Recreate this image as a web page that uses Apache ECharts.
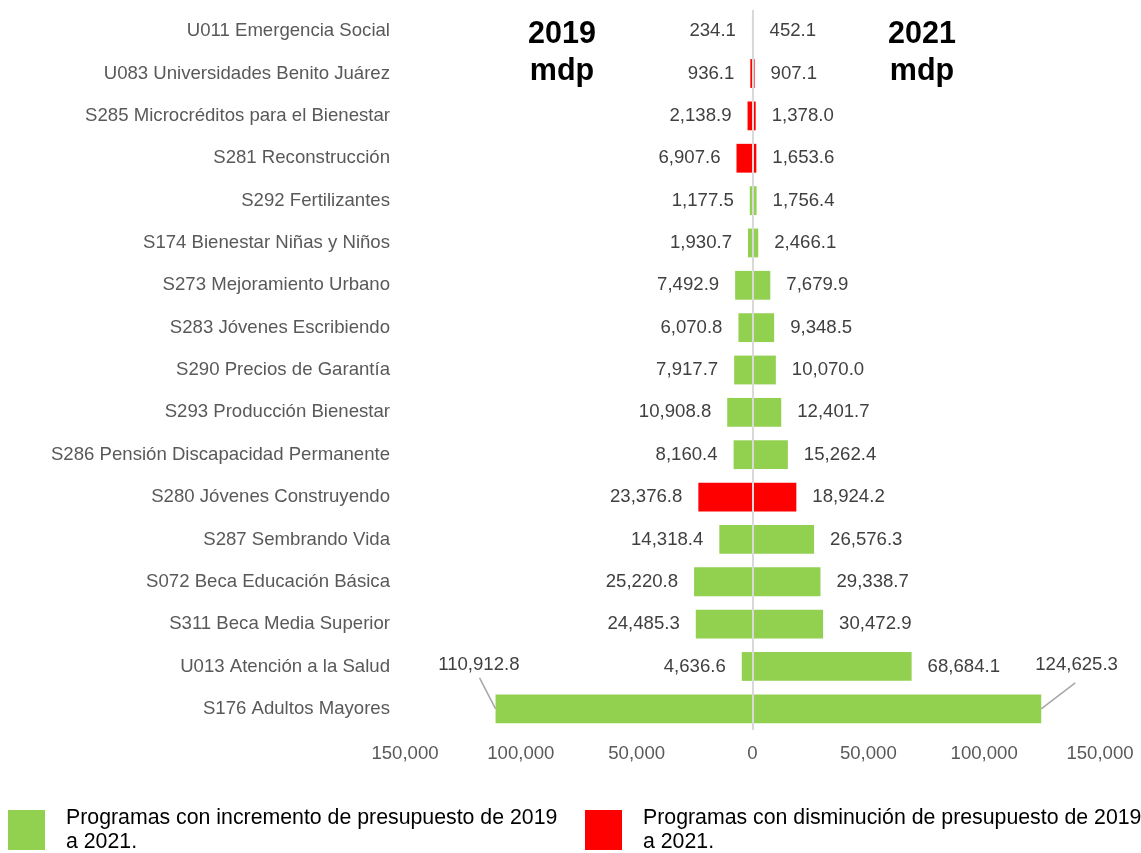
<!DOCTYPE html>
<html>
<head>
<meta charset="utf-8">
<script src="https://cdn.jsdelivr.net/npm/echarts@6/dist/echarts.min.js"></script>
<style>
  html, body { margin: 0; padding: 0; background: #fff; }
  #chart { width: 1141px; height: 853px; }
</style>
</head>
<body>
<div id="chart"></div>
<script>
// programas (de arriba hacia abajo)
const categories = [
  'U011 Emergencia Social',
  'U083 Universidades Benito Juárez',
  'S285 Microcréditos para el Bienestar',
  'S281 Reconstrucción',
  'S292 Fertilizantes',
  'S174 Bienestar Niñas y Niños',
  'S273 Mejoramiento Urbano',
  'S283 Jóvenes Escribiendo',
  'S290 Precios de Garantía',
  'S293 Producción Bienestar',
  'S286 Pensión Discapacidad Permanente',
  'S280 Jóvenes Construyendo',
  'S287 Sembrando Vida',
  'S072 Beca Educación Básica',
  'S311 Beca Media Superior',
  'U013 Atención a la Salud',
  'S176 Adultos Mayores'
]
const budget2019 = [234.1, 936.1, 2138.9, 6907.6, 1177.5, 1930.7, 7492.9, 6070.8, 7917.7, 10908.8, 8160.4, 23376.8, 14318.4, 25220.8, 24485.3, 4636.6, 110912.8]
const budget2021 = [452.1, 907.1, 1378.0, 1653.6, 1756.4, 2466.1, 7679.9, 9348.5, 10070.0, 12401.7, 15262.4, 18924.2, 26576.3, 29338.7, 30472.9, 68684.1, 124625.3]
const axisTicks = [-150000, 150000, 50000] // min, max, interval

const incName = 'Programas con incremento de presupuesto de 2019 a 2021.'
const decName = 'Programas con disminución de presupuesto de 2019 a 2021.'
const GREEN = '#92D050'
const RED = '#FF0000'
const FONT = 'Liberation Sans, Arial, sans-serif'

function fmt(v, dec) {
  const n = Math.abs(v)
  const parts = n.toFixed(dec).split('.')
  parts[0] = parts[0].replace(/\B(?=(\d{3})+(?!\d))/g, ',')
  return parts.join('.')
}

const isUp = categories.map((c, i) => budget2021[i] >= budget2019[i])
const lastIdx = categories.length - 1

function side(up, year) {
  return categories.map((c, i) => {
    if (isUp[i] !== up) return '-'
    return year === 2019 ? -budget2019[i] : budget2021[i]
  })
}

const labelStyle = {
  show: true,
  fontSize: 18.6,
  color: '#404040',
  fontFamily: FONT,
  distance: 16,
  formatter: p => fmt(p.value, 1)
}

function makeSeries(name, up, year) {
  return {
    name,
    type: 'bar',
    stack: 'total',
    barCategoryGap: '32%',
    itemStyle: { color: up ? GREEN : RED },
    label: { ...labelStyle, position: year === 2019 ? 'left' : 'right' },
    // etiquetas de la última barra arriba, con línea guía
    labelLayout: p => {
      if (p.dataIndex !== lastIdx) return {}
      return year === 2019 ? { dx: 40, dy: -44 } : { dx: -22, dy: -44 }
    },
    data: side(up, year),
    silent: true
  }
}

const chart = echarts.init(document.getElementById('chart'), null, { renderer: 'canvas' })

const series = [
  makeSeries(incName, true, 2019),
  makeSeries(incName, true, 2021),
  makeSeries(decName, false, 2019),
  makeSeries(decName, false, 2021)
]
// línea central en cero
series[0].markLine = {
  silent: true,
  symbol: 'none',
  label: { show: false },
  lineStyle: { color: '#d9d9d9', width: 2, type: 'solid' },
  data: [{ xAxis: 0 }],
  z: 10
}

const legendText = {
  fontSize: 21.3,
  color: '#000',
  lineHeight: 24,
  fontFamily: FONT,
  padding: [0, 0, 0, 16]
}
const legendFmt = name => name.replace(' 2019 a', ' 2019\na')
const titleText = { fontSize: 30.5, fontWeight: 'bold', color: '#000', lineHeight: 37, fontFamily: FONT }

chart.setOption({
  animation: false,
  textStyle: { fontFamily: FONT },
  title: [
    { text: '2019\nmdp', left: 562, top: 16, padding: 0, textAlign: 'center', textStyle: titleText },
    { text: '2021\nmdp', left: 922, top: 16, padding: 0, textAlign: 'center', textStyle: titleText }
  ],
  legend: [
    {
      data: [incName], left: 8, top: 806, padding: 0,
      itemWidth: 37, itemHeight: 40, icon: 'rect',
      formatter: legendFmt, textStyle: legendText, selectedMode: false
    },
    {
      data: [decName], left: 585, top: 806, padding: 0,
      itemWidth: 37, itemHeight: 40, icon: 'rect',
      formatter: legendFmt, textStyle: legendText, selectedMode: false
    }
  ],
  grid: { left: 405, right: 41, top: 10, bottom: 123, containLabel: false },
  xAxis: {
    type: 'value',
    min: axisTicks[0],
    max: axisTicks[1],
    interval: axisTicks[2],
    axisLine: { show: false },
    axisTick: { show: false },
    splitLine: { show: false },
    axisLabel: {
      fontSize: 18.6,
      color: '#595959',
      margin: 14,
      formatter: v => fmt(v, 0)
    }
  },
  yAxis: {
    type: 'category',
    inverse: true,
    data: categories,
    axisLine: { show: false },
    axisTick: { show: false },
    axisLabel: { fontSize: 18.6, color: '#595959', margin: 15 }
  },
  series
})

// líneas guía de la última barra, ancladas al extremo de cada barra
const leftEnd = chart.convertToPixel({ gridIndex: 0 }, [-budget2019[lastIdx], lastIdx])
const rightEnd = chart.convertToPixel({ gridIndex: 0 }, [budget2021[lastIdx], lastIdx])
const guide = { stroke: '#a6a6a6', lineWidth: 1.5 }
chart.setOption({
  graphic: [
    {
      type: 'line', silent: true, z: 20,
      shape: { x1: leftEnd[0], y1: leftEnd[1], x2: leftEnd[0] - 16, y2: leftEnd[1] - 31 },
      style: guide
    },
    {
      type: 'line', silent: true, z: 20,
      shape: { x1: rightEnd[0], y1: rightEnd[1], x2: rightEnd[0] + 34, y2: rightEnd[1] - 26 },
      style: guide
    }
  ]
})
</script>
</body>
</html>
